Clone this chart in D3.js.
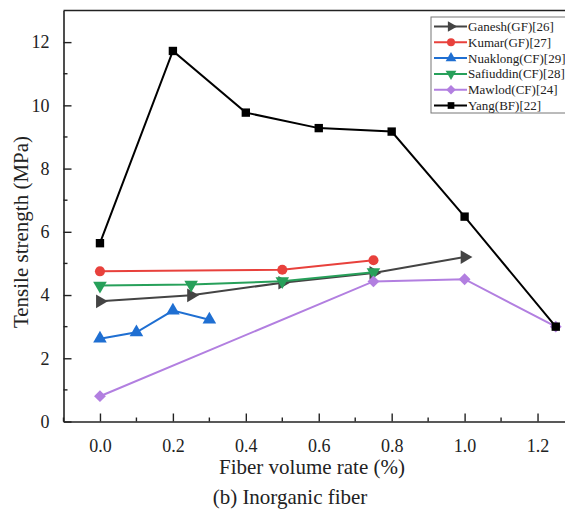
<!DOCTYPE html>
<html>
<head>
<meta charset="utf-8">
<script src="https://cdn.jsdelivr.net/npm/d3@7"></script>
<style>
  body { margin: 0; background: #fff; }
  svg text { font-family: "Liberation Serif", "DejaVu Serif", "Times New Roman", serif !important; fill: #222; }
</style>
</head>
<body>
<div id="chart"></div>
<script>
// series (fiber volume %, tensile strength MPa)
const ganesh_x = [0, 0.25, 0.5, 0.75, 1.0];
const ganesh_y = [3.8, 3.99, 4.39, 4.7, 5.2];
const kumar_x = [0, 0.5, 0.75];
const kumar_y = [4.75, 4.8, 5.1];
const nuaklong_x = [0, 0.1, 0.2, 0.3];
const nuaklong_y = [2.62, 2.82, 3.51, 3.22];
const safiuddin_x = [0, 0.25, 0.5, 0.75];
const safiuddin_y = [4.3, 4.33, 4.44, 4.72];
const mawlod_x = [0, 0.75, 1.0, 1.25];
const mawlod_y = [0.8, 4.43, 4.5, 3.0];
const yang_x = [0, 0.2, 0.4, 0.6, 0.8, 1.0, 1.25];
const yang_y = [5.64, 11.72, 9.77, 9.28, 9.17, 6.48, 3.0];

const x_ticks = [0, 0.2, 0.4, 0.6, 0.8, 1.0, 1.2];
const y_ticks = [0, 2, 4, 6, 8, 10, 12];

const width = 565;
const height = 513;
const serif = "'Liberation Serif', 'DejaVu Serif', 'Times New Roman', serif";

const series = [
    { name: "Ganesh(GF)[26]", xs: ganesh_x, ys: ganesh_y, color: "#444444", shape: d3.symbolTriangle, rot: 90 },
    { name: "Kumar(GF)[27]", xs: kumar_x, ys: kumar_y, color: "#e8413c", shape: d3.symbolCircle, rot: 0 },
    { name: "Nuaklong(CF)[29]", xs: nuaklong_x, ys: nuaklong_y, color: "#1f6fd2", shape: d3.symbolTriangle, rot: 0 },
    { name: "Safiuddin(CF)[28]", xs: safiuddin_x, ys: safiuddin_y, color: "#27a05a", shape: d3.symbolTriangle, rot: 180 },
    { name: "Mawlod(CF)[24]", xs: mawlod_x, ys: mawlod_y, color: "#b27fe0", shape: d3.symbolSquare, rot: 45 },
    { name: "Yang(BF)[22]", xs: yang_x, ys: yang_y, color: "#000000", shape: d3.symbolSquare, rot: 0 }
];

const svg = d3.select("#chart")
    .append("svg")
    .attr("width", width)
    .attr("height", height)
    .style("font-family", serif);

const x = d3.scaleLinear().domain([-0.1, 1.3]).range([63.5, 574]);
const y = d3.scaleLinear().domain([0, 13]).range([421.5, 10.5]);

// frame top line
svg.append("line")
    .attr("x1", 63.5).attr("x2", width)
    .attr("y1", y(13)).attr("y2", y(13))
    .attr("stroke", "#222").attr("stroke-width", 1.6);

// x axis (ticks pointing in)
const xAxis = svg.append("g")
    .attr("transform", "translate(0," + y(0) + ")")
    .call(d3.axisBottom(x).tickValues(x_ticks).tickFormat(d3.format(".1f")).tickSizeInner(-8).tickSizeOuter(0).tickPadding(18));
xAxis.append("g").selectAll("line")
    .data(d3.range(-0.1, 1.31, 0.2))
    .enter().append("line")
    .attr("x1", d => x(d)).attr("x2", d => x(d))
    .attr("y1", 0).attr("y2", -4)
    .attr("stroke", "#222").attr("stroke-width", 1.4);

// y axis (ticks pointing in)
const yAxis = svg.append("g")
    .attr("transform", "translate(" + x(-0.1) + ",0)")
    .call(d3.axisLeft(y).tickValues(y_ticks).tickSizeInner(-8).tickSizeOuter(0).tickPadding(14));
yAxis.append("g").selectAll("line")
    .data([1, 3, 5, 7, 9, 11])
    .enter().append("line")
    .attr("x1", 0).attr("x2", 4)
    .attr("y1", d => y(d)).attr("y2", d => y(d))
    .attr("stroke", "#222").attr("stroke-width", 1.4);

svg.selectAll("g").attr("font-family", serif);
svg.selectAll(".domain").attr("stroke", "#222").attr("stroke-width", 1.6);
svg.selectAll(".tick line").attr("stroke", "#222").attr("stroke-width", 1.4);
svg.selectAll(".tick text")
    .attr("font-size", 18)
    .attr("fill", "#222");

// titles
svg.append("text")
    .attr("x", 312).attr("y", 474)
    .attr("text-anchor", "middle")
    .attr("font-size", 21)
    .text("Fiber volume rate (%)");

svg.append("text")
    .attr("transform", "translate(28,232) rotate(-90)")
    .attr("text-anchor", "middle")
    .attr("font-size", 21)
    .text("Tensile strength (MPa)");

svg.append("text")
    .attr("x", 290).attr("y", 504)
    .attr("text-anchor", "middle")
    .attr("font-size", 21)
    .text("(b) Inorganic fiber");

// lines and markers
const line = d3.line().x(d => x(d[0])).y(d => y(d[1]));

series.forEach(s => {
    const pts = s.xs.map((v, i) => [v, s.ys[i]]);
    const g = svg.append("g");
    g.append("path")
        .datum(pts)
        .attr("d", line)
        .attr("fill", "none")
        .attr("stroke", s.color)
        .attr("stroke-width", 2);
    g.selectAll("path.pt")
        .data(pts)
        .enter().append("path")
        .attr("class", "pt")
        .attr("d", d3.symbol().type(s.shape).size(s.shape === d3.symbolSquare ? 70 : 80))
        .attr("transform", d => "translate(" + x(d[0]) + "," + y(d[1]) + ") rotate(" + s.rot + ")")
        .attr("fill", s.color);
});

// legend
const lg = svg.append("g").attr("transform", "translate(431,17)");
lg.append("rect")
    .attr("width", 145).attr("height", 96)
    .attr("fill", "#fff")
    .attr("stroke", "#777").attr("stroke-width", 1);

series.forEach((s, i) => {
    const yy = 9.5 + i * 15.8;
    lg.append("line")
        .attr("x1", 3).attr("x2", 36)
        .attr("y1", yy).attr("y2", yy)
        .attr("stroke", s.color).attr("stroke-width", 2);
    lg.append("path")
        .attr("d", d3.symbol().type(s.shape).size(s.shape === d3.symbolSquare ? 45 : 50))
        .attr("transform", "translate(20," + yy + ") rotate(" + s.rot + ")")
        .attr("fill", s.color);
    lg.append("text")
        .attr("x", 37).attr("y", yy + 4.5)
        .attr("font-size", 13)
        .text(s.name);
});
</script>
</body>
</html>
